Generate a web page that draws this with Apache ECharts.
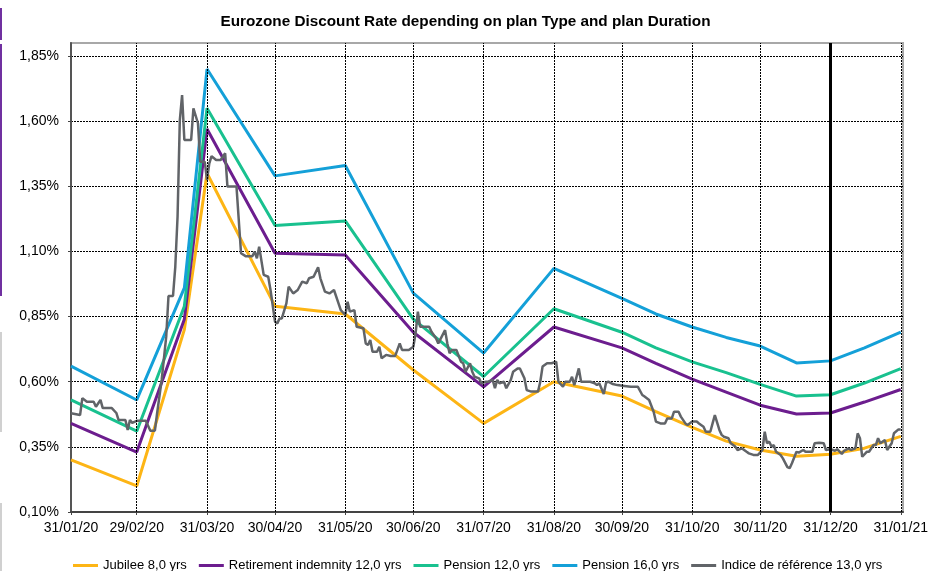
<!DOCTYPE html>
<html>
<head>
<meta charset="utf-8">
<script src="https://cdn.jsdelivr.net/npm/echarts@6/dist/echarts.min.js"></script>
<style>
html,body{margin:0;padding:0;background:#fff;}
#chart{width:931px;height:571px;}
</style>
</head>
<body>
<div id="chart"></div>
<script>
// ---- data ----
const titleText = 'Eurozone Discount Rate depending on plan Type and plan Duration';
const seriesNames = ['Jubilee 8,0 yrs', 'Retirement indemnity 12,0 yrs', 'Pension 12,0 yrs', 'Pension 16,0 yrs', 'Indice de référence 13,0 yrs'];
const seriesColors = ['#FDB515', '#6C1D8E', '#19C18F', '#14A0D8', '#616468'];

const tickLabels = ['31/01/20','29/02/20','31/03/20','30/04/20','31/05/20','30/06/20','31/07/20','31/08/20','30/09/20','31/10/20','30/11/20','31/12/20','31/01/21'];
const markerDate = '31/12/20';

const planDates = ['31/01/20','29/02/20','21/03/20','31/03/20','30/04/20','31/05/20','30/06/20','31/07/20','31/08/20','30/09/20','15/10/20','31/10/20','15/11/20','30/11/20','16/12/20','31/12/20','15/01/21','31/01/21'];
const jubilee     = [0.30, 0.20, 0.80, 1.40, 0.89, 0.86, 0.645, 0.44, 0.60, 0.545, 0.485, 0.425, 0.372, 0.338, 0.314, 0.322, 0.345, 0.39];
const retirement  = [0.44, 0.33, 0.84, 1.57, 1.093, 1.086, 0.79, 0.58, 0.81, 0.73, 0.67, 0.61, 0.56, 0.51, 0.476, 0.48, 0.522, 0.57];
const pension12   = [0.53, 0.41, 0.89, 1.65, 1.20, 1.217, 0.84, 0.62, 0.88, 0.79, 0.73, 0.676, 0.635, 0.59, 0.545, 0.55, 0.595, 0.65];
const pension16   = [0.66, 0.53, 0.96, 1.80, 1.39, 1.43, 0.94, 0.71, 1.035, 0.92, 0.86, 0.81, 0.77, 0.737, 0.672, 0.68, 0.73, 0.79];

// reference index: days since 31/01/20 and values (%)
const refDays = [0,4,5,7,10,11,13,14,18,20,21,24,25,26,27,29,33,35,37,38,40,42,43,45,46,47,48,49,50,53,54,56,57,59,60,61,62,64,66,68,69,73,75,77,80,81,82,83,85,87,88,90,91,92,93,95,96,98,100,102,104,105,107,109,110,112,114,116,118,119,121,122,123,125,126,129,130,131,132,133,135,136,137,139,141,143,145,146,149,151,152,153,154,158,159,161,162,165,166,167,168,170,172,173,174,176,177,178,180,181,183,184,186,187,188,189,191,192,194,195,197,198,200,201,203,206,207,208,210,212,214,215,217,218,220,221,222,224,225,227,229,231,232,233,235,236,237,239,241,244,247,250,252,253,255,257,258,260,262,263,265,266,268,269,271,272,274,276,277,279,280,282,283,284,286,287,288,290,291,293,294,296,298,299,301,303,305,306,307,308,309,310,311,313,314,316,317,318,320,321,323,324,326,327,328,330,332,333,335,337,338,340,341,343,344,346,347,348,349,351,352,354,355,356,357,359,360,362,363,365,366];
const refValues = [0.479,0.472,0.537,0.523,0.523,0.504,0.530,0.499,0.499,0.480,0.453,0.453,0.415,0.453,0.442,0.450,0.450,0.412,0.412,0.480,0.607,0.773,0.929,0.929,1.041,1.233,1.604,1.700,1.528,1.528,1.649,1.592,1.444,1.444,1.374,1.438,1.466,1.451,1.451,1.477,1.349,1.349,1.093,1.082,1.082,1.099,1.074,1.118,1.010,1.003,0.952,0.830,0.824,0.843,0.843,0.901,0.965,0.939,0.952,0.984,0.978,0.997,1.003,1.039,0.997,0.946,0.939,0.952,0.901,0.875,0.856,0.907,0.869,0.875,0.811,0.805,0.747,0.741,0.760,0.715,0.715,0.734,0.690,0.703,0.699,0.699,0.747,0.722,0.722,0.734,0.786,0.869,0.811,0.811,0.792,0.767,0.747,0.798,0.747,0.709,0.722,0.722,0.677,0.671,0.638,0.671,0.638,0.619,0.613,0.594,0.600,0.600,0.607,0.575,0.607,0.594,0.600,0.575,0.607,0.638,0.651,0.651,0.613,0.568,0.562,0.562,0.600,0.658,0.671,0.671,0.677,0.600,0.581,0.600,0.600,0.619,0.587,0.651,0.600,0.600,0.600,0.594,0.587,0.594,0.553,0.596,0.600,0.591,0.587,0.584,0.581,0.581,0.549,0.543,0.530,0.485,0.447,0.440,0.440,0.459,0.459,0.485,0.485,0.466,0.440,0.434,0.447,0.447,0.440,0.427,0.408,0.408,0.440,0.472,0.415,0.396,0.389,0.383,0.364,0.351,0.338,0.344,0.331,0.325,0.319,0.319,0.338,0.408,0.364,0.370,0.351,0.357,0.331,0.319,0.306,0.272,0.268,0.287,0.331,0.328,0.338,0.331,0.331,0.331,0.364,0.366,0.364,0.338,0.341,0.335,0.341,0.323,0.335,0.344,0.338,0.344,0.402,0.383,0.312,0.331,0.331,0.357,0.357,0.383,0.364,0.376,0.338,0.364,0.402,0.417,0.417];

// ---- helpers ----
const DAY = 86400000;
function parseDate(s){ const p = s.split('/'); return Date.UTC(2000 + (+p[2]), (+p[1]) - 1, +p[0]); }
const baseTs = parseDate(tickLabels[0]);
const endTs = parseDate(tickLabels[tickLabels.length - 1]) + DAY;
const tickTs = tickLabels.map(parseDate);
const labelMap = {}; tickTs.forEach((t, i) => labelMap[t] = tickLabels[i]);
const markerTs = parseDate(markerDate);

function pair(dates, vals){ return dates.map((d, i) => [parseDate(d), vals[i]]); }
const planSeries = [jubilee, retirement, pension12, pension16];

const font = "'Liberation Sans', Arial, sans-serif";
const chart = echarts.init(document.getElementById('chart'), null, {renderer: 'canvas'});

const series = [];
// grid lines (vertical, dotted) via a helper series
series.push({
  type: 'line', name: '_grid', data: [], z: 1, silent: true,
  markLine: {
    silent: true, symbol: 'none', label: {show: false}, animation: false,
    lineStyle: {color: '#000', width: 1, type: [2, 1]},
    data: tickTs.slice(1).filter(t => t !== markerTs).map(t => ({xAxis: t}))
  }
});
planSeries.forEach((vals, i) => {
  series.push({
    type: 'line', name: seriesNames[i], data: pair(planDates, vals),
    showSymbol: false, symbol: 'none', z: 3,
    lineStyle: {color: seriesColors[i], width: 3},
    itemStyle: {color: seriesColors[i]}
  });
});
series.push({
  type: 'line', name: seriesNames[4],
  data: refDays.map((d, i) => [baseTs + d * DAY, refValues[i]]),
  showSymbol: false, symbol: 'none', z: 4,
  lineStyle: {color: seriesColors[4], width: 2.5},
  itemStyle: {color: seriesColors[4]},
  markLine: {
    silent: true, symbol: 'none', label: {show: false}, animation: false,
    lineStyle: {color: '#000', width: 3, type: 'solid'},
    data: [{xAxis: markerTs}]
  }
});

chart.setOption({
  animation: false,
  backgroundColor: '#fff',
  title: {
    text: titleText, left: 'center', top: 9,
    textStyle: {fontFamily: font, fontSize: 15.3, fontWeight: 'bold', color: '#000'}
  },
  legend: {
    data: seriesNames, left: 68, top: 554,
    icon: 'rect', itemWidth: 25, itemHeight: 3, itemGap: 12,
    textStyle: {fontFamily: font, fontSize: 13, color: '#000'}
  },
  grid: {
    left: 71, right: 26, top: 43, bottom: 59, containLabel: false,
    show: true, borderColor: '#a8a8a8', borderWidth: 2, backgroundColor: 'transparent'
  },
  xAxis: {
    type: 'value', min: baseTs, max: endTs,
    axisLine: {show: true, onZero: false, lineStyle: {color: '#444', width: 2}},
    axisTick: {show: true, customValues: tickTs, length: 3, lineStyle: {color: '#444'}},
    axisLabel: {
      customValues: tickTs, margin: 9, color: '#000', fontFamily: font, fontSize: 14,
      formatter: v => labelMap[v] || ''
    },
    splitLine: {show: false}
  },
  yAxis: {
    type: 'value', min: 0.10, max: 1.90, interval: 0.25,
    axisLine: {show: true, lineStyle: {color: '#555', width: 2}},
    axisTick: {show: true, length: 3, lineStyle: {color: '#444'}},
    axisLabel: {
      margin: 12, color: '#000', fontFamily: font, fontSize: 14, showMaxLabel: false,
      formatter: v => (v > 1.875 ? '' : v.toFixed(2).replace('.', ',') + '%')
    },
    splitLine: {show: true, showMaxLine: false, lineStyle: {color: '#000', width: 1, type: [2, 1]}}
  },
  graphic: [
    {type: 'rect', shape: {x: 0, y: 8, width: 2, height: 32}, style: {fill: '#7030A0'}},
    {type: 'rect', shape: {x: 0, y: 44, width: 2, height: 252}, style: {fill: '#7030A0'}},
    {type: 'rect', shape: {x: 0, y: 332, width: 2, height: 100}, style: {fill: '#d0d0d0'}},
    {type: 'rect', shape: {x: 0, y: 503, width: 2, height: 68}, style: {fill: '#d0d0d0'}}
  ],
  series: series
});
</script>
</body>
</html>
